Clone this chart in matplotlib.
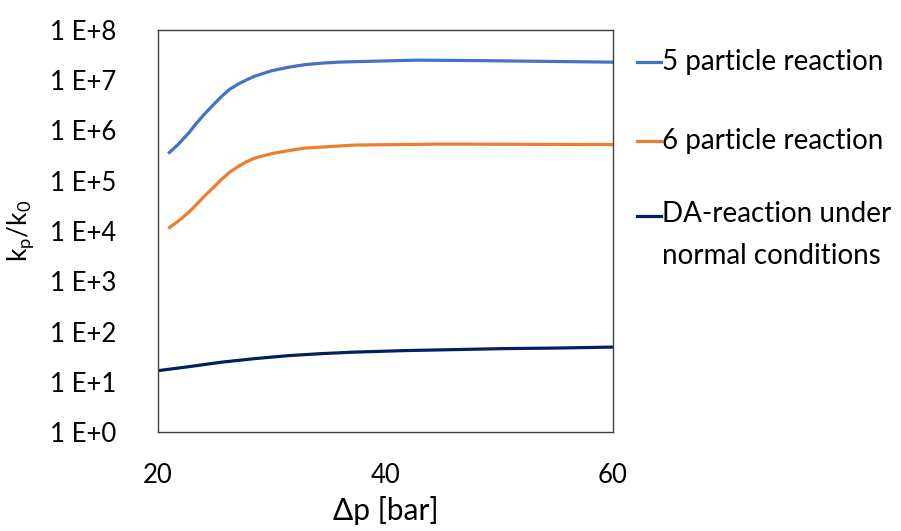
import matplotlib
matplotlib.use("Agg")
import matplotlib.pyplot as plt
from matplotlib.lines import Line2D
from matplotlib.ticker import FuncFormatter, FixedLocator, NullLocator
import numpy as np

plt.rcParams['font.family'] = ['Lato', 'DejaVu Sans']

# values (log10 of kp/k0)
p_five = [20.9, 21.8, 22.7, 23.4, 24.1, 24.9, 25.6, 26.3, 27.1, 27.8, 28.5,
          30.0, 31.5, 32.9, 34.4, 35.8, 37.3, 42.8, 48.6, 60]
log_five = [5.54, 5.73, 5.95, 6.15, 6.33, 6.52, 6.68, 6.82, 6.93, 7.01, 7.08,
            7.19, 7.26, 7.31, 7.34, 7.36, 7.37, 7.40, 7.39, 7.36]

p_six = [20.9, 21.8, 22.7, 23.4, 24.1, 24.9, 25.6, 26.3, 27.1, 27.8, 28.5,
         30.0, 31.5, 32.9, 34.4, 35.8, 37.3, 45, 60]
log_six = [4.05, 4.20, 4.37, 4.53, 4.70, 4.87, 5.03, 5.17, 5.29, 5.38, 5.45,
           5.54, 5.60, 5.65, 5.67, 5.69, 5.71, 5.73, 5.72]

p_da = [20, 22.7, 25.6, 28.5, 31.5, 34.4, 37.3, 41.7, 46.1, 50.5, 54.9, 60]
log_da = [1.22, 1.30, 1.39, 1.46, 1.52, 1.56, 1.59, 1.62, 1.64, 1.66, 1.67, 1.69]

labels = ["5 particle reaction", "6 particle reaction",
          "DA-reaction under\nnormal conditions"]
colors = ["#4472C4", "#ED7D31", "#002060"]

fig = plt.figure(figsize=(9.01, 5.31), dpi=100)
ax = fig.add_axes([158 / 901, 1 - 432 / 531, 455 / 901, 402 / 531])

series = [(p_five, log_five), (p_six, log_six), (p_da, log_da)]
for (x, y), c in zip(series, colors):
    ax.plot(x, 10 ** np.array(y), color=c, lw=2.3, solid_capstyle='butt',
            solid_joinstyle='round')

ax.set_yscale('log')
ax.set_ylim(1, 1e8)
ax.set_xlim(20, 60)
ax.yaxis.set_major_locator(FixedLocator([10.0 ** k for k in range(9)]))
ax.yaxis.set_minor_locator(NullLocator())
ax.yaxis.set_major_formatter(FuncFormatter(lambda v, pos: "1 E+%d" % round(np.log10(v))))
ax.set_xticks([20, 40, 60])
ax.tick_params(length=0, labelsize=18.5, colors='#000000')
ax.tick_params(axis='y', pad=30)
ax.tick_params(axis='x', pad=22)
for s in ax.spines.values():
    s.set_color('#404040')
    s.set_linewidth(1.0)

ax.set_xlabel("Δp [bar]", fontsize=21.5, labelpad=6)
ax.set_ylabel("k$_\\mathregular{p}$/k$_\\mathregular{0}$", fontsize=19, labelpad=10)

# legend drawn at the right like the original
leg_y = [62, 141, 216]
for lab, c, yy in zip(labels, colors, leg_y):
    yf = 1 - yy / 531
    fig.add_artist(Line2D([637 / 901, 661 / 901], [yf, yf], color=c, lw=2.3,
                          transform=fig.transFigure))
    if '\n' in lab:
        fig.text(662 / 901, 1 - (yy - 15) / 531, lab, fontsize=20, va='top',
                 ha='left', linespacing=1.75)
    else:
        fig.text(662 / 901, yf, lab, fontsize=20, va='center', ha='left')

fig.savefig("out.png", dpi=100)
